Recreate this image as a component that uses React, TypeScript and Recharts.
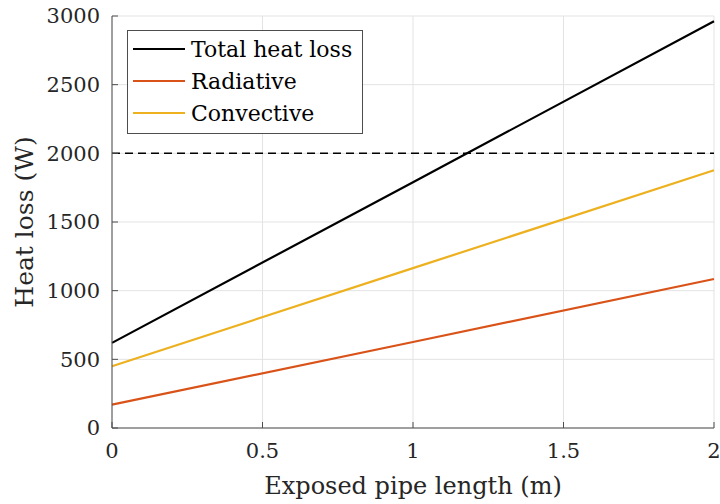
import React from 'react';
import {
  LineChart,
  Line,
  XAxis,
  YAxis,
  CartesianGrid,
  ReferenceLine,
  Legend,
  Label
} from 'recharts';

// exposed pipe length (m)
const lengths = [0, 1, 2];
// heat loss (W)
const totalLoss = [620, 1790, 2962];
const radiativeLoss = [170, 626, 1085];
const convectiveLoss = [450, 1164, 1877];

const xTicks = [0, 0.5, 1, 1.5, 2];
const yTicks = [0, 500, 1000, 1500, 2000, 2500, 3000];
const limitLoss = 2000;

const seriesInfo = [
  { key: 'total', name: 'Total heat loss', color: '#000000' },
  { key: 'radiative', name: 'Radiative', color: '#D95319' },
  { key: 'convective', name: 'Convective', color: '#EDB120' }
];

const data = lengths.map((x, i) => ({
  x,
  total: totalLoss[i],
  radiative: radiativeLoss[i],
  convective: convectiveLoss[i]
}));

const FONT = '"DejaVu Serif", serif';
const AXIS_COLOR = '#4d4d4d';

function LegendBox() {
  return (
    <div
      style={{
        border: '1px solid #4d4d4d',
        background: '#fff',
        width: 234,
        padding: '2px 0 4px 0',
        fontFamily: FONT,
        fontSize: 22,
        color: '#000',
        boxSizing: 'content-box'
      }}
    >
      {seriesInfo.map((s) => (
        <div key={s.key} style={{ display: 'flex', alignItems: 'center', height: 32 }}>
          <div style={{ width: 52, height: 2, background: s.color, marginLeft: 5, marginRight: 6 }} />
          <span>{s.name}</span>
        </div>
      ))}
    </div>
  );
}

export default function App() {
  return (
    <div style={{ position: 'absolute', left: 0, top: 0, background: '#fff' }}>
      <LineChart width={720} height={504} data={data} margin={{ top: 16, right: 6, left: 0, bottom: 0 }}>
        <CartesianGrid stroke="#e3e3e3" strokeWidth={1} />
        <XAxis
          dataKey="x"
          type="number"
          domain={[0, 2]}
          ticks={xTicks}
          height={76}
          tickSize={-6}
          tickMargin={21}
          stroke={AXIS_COLOR}
          tick={{ fill: '#262626', fontSize: 21, fontFamily: FONT }}
          tickFormatter={(v: number) => String(v)}
        >
          <Label
            value="Exposed pipe length (m)"
            position="insideBottom"
            offset={10}
            style={{ fill: '#262626', fontSize: 24, fontFamily: FONT }}
          />
        </XAxis>
        <XAxis
          xAxisId="top"
          orientation="top"
          type="number"
          dataKey="x"
          domain={[0, 2]}
          ticks={xTicks}
          height={0}
          tickSize={-6}
          stroke={AXIS_COLOR}
          tickFormatter={() => ''}
        />
        <YAxis
          type="number"
          domain={[0, 3000]}
          ticks={yTicks}
          width={112}
          tickSize={-6}
          tickMargin={18}
          stroke={AXIS_COLOR}
          tick={{ fill: '#262626', fontSize: 21, fontFamily: FONT }}
        >
          <Label
            value="Heat loss (W)"
            angle={-90}
            position="insideLeft"
            offset={24}
            style={{ textAnchor: 'middle', fill: '#262626', fontSize: 25, fontFamily: FONT }}
          />
        </YAxis>
        <YAxis
          yAxisId="right"
          orientation="right"
          type="number"
          domain={[0, 3000]}
          ticks={yTicks}
          width={0}
          tickSize={-6}
          stroke={AXIS_COLOR}
          tickFormatter={() => ''}
        />
        <ReferenceLine y={limitLoss} stroke="#000" strokeWidth={1.5} strokeDasharray="8 5" />
        {seriesInfo.map((s) => (
          <Line
            key={s.key}
            dataKey={s.key}
            name={s.name}
            stroke={s.color}
            strokeWidth={2.2}
            dot={false}
            type="linear"
            isAnimationActive={false}
          />
        ))}
        <Legend
          content={<LegendBox />}
          wrapperStyle={{ left: 127, top: 30, width: 236 }}
          layout="vertical"
          verticalAlign="middle"
          align="center"
        />
      </LineChart>
    </div>
  );
}
